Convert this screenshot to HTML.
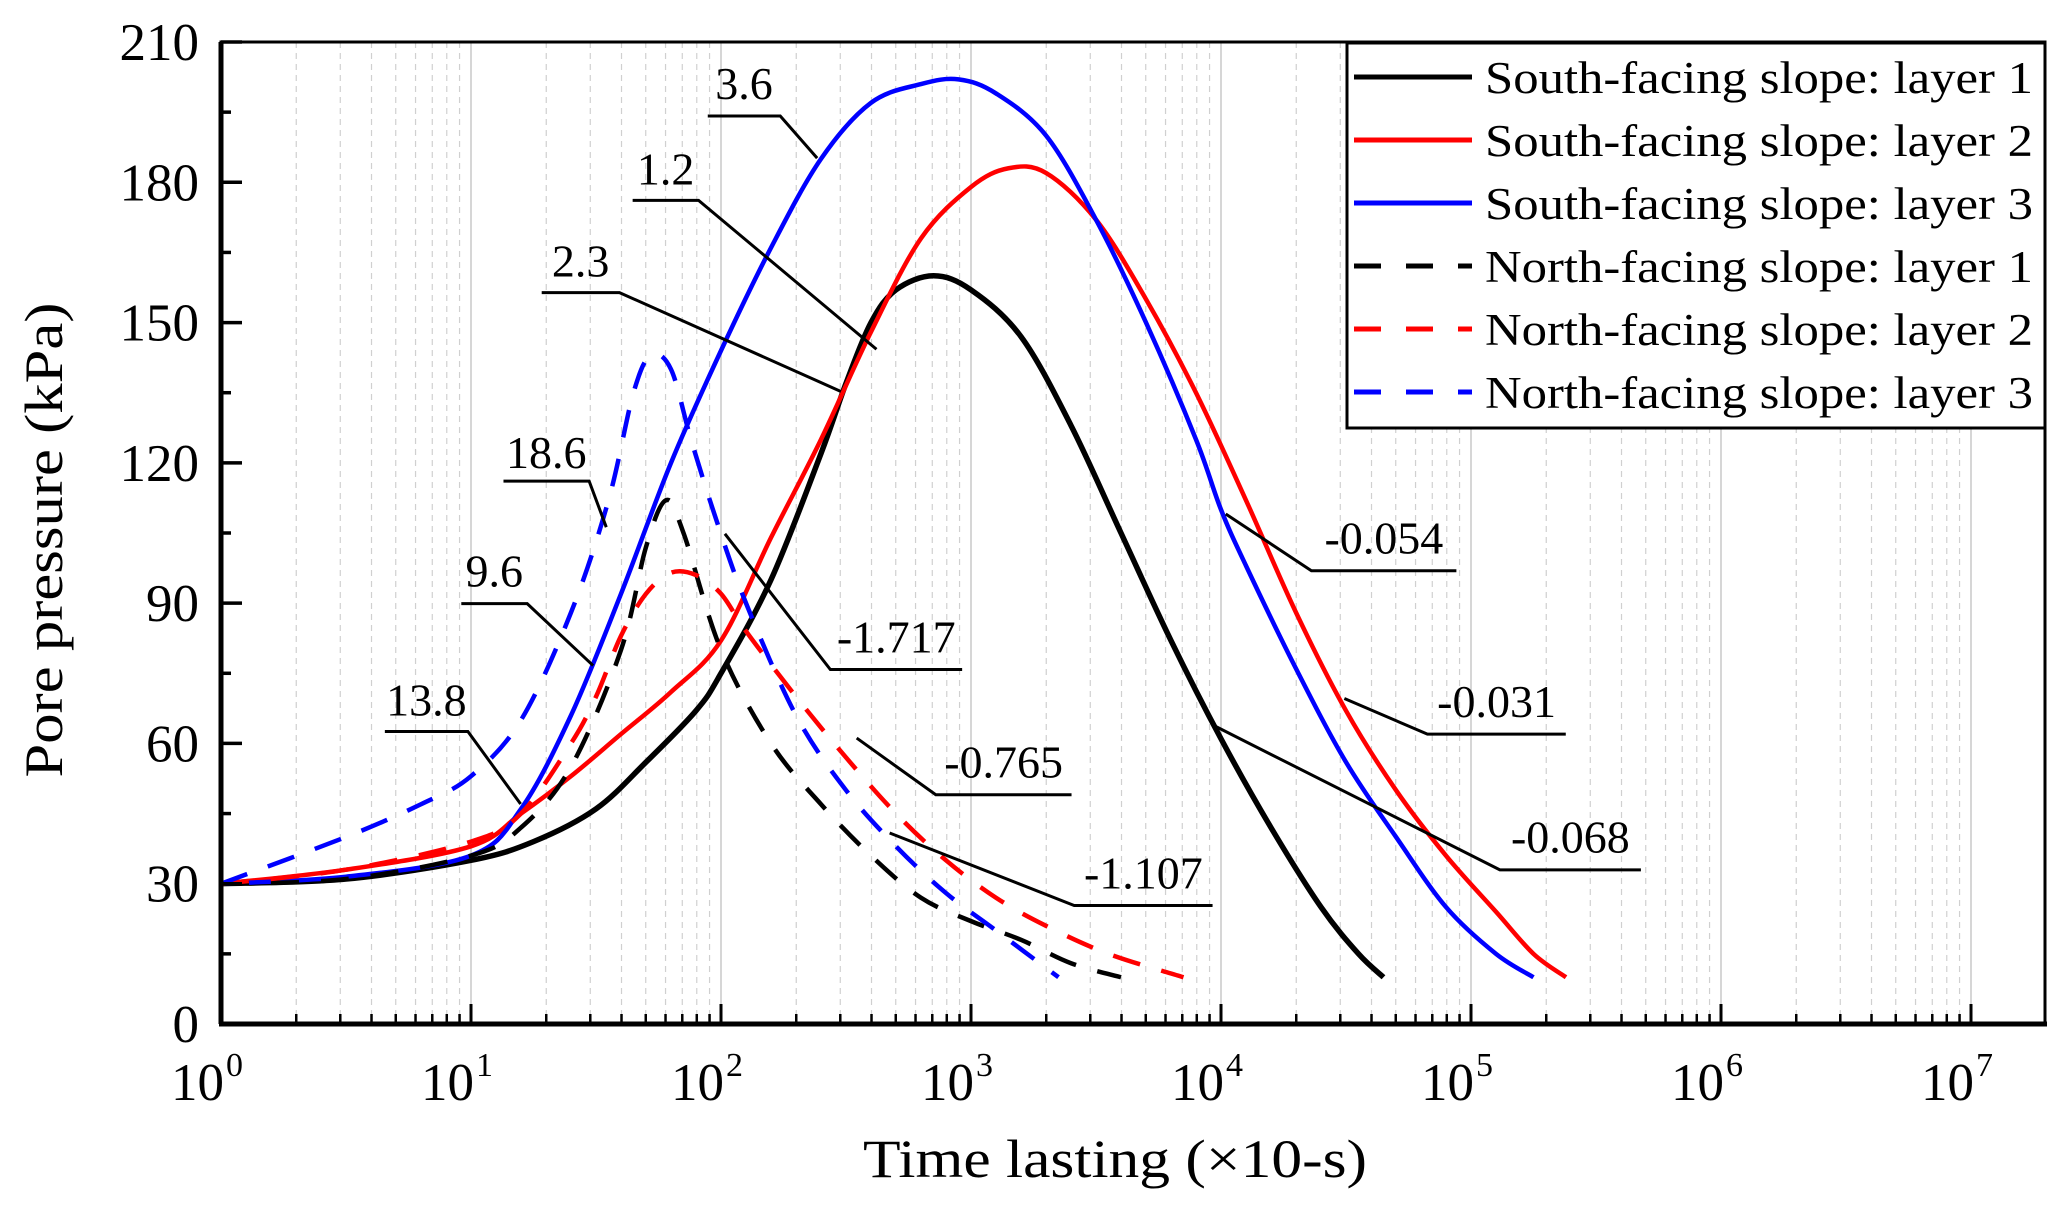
<!DOCTYPE html>
<html><head><meta charset="utf-8"><style>
body{margin:0;background:#fff}
svg{display:block;font-family:"Liberation Serif",serif}
</style></head><body>
<svg id="chart" width="2067" height="1211" viewBox="0 0 2067 1211" xmlns="http://www.w3.org/2000/svg">
<g id="grid"></g>
<g id="series"></g>
<g id="annot"></g>
<g id="axes"></g>
<text x="1115" y="1177" font-size="54" text-anchor="middle" textLength="504" lengthAdjust="spacingAndGlyphs">Time lasting (×10-s)</text>
<text transform="translate(62,540) rotate(-90)" font-size="54" text-anchor="middle" textLength="475" lengthAdjust="spacingAndGlyphs">Pore pressure (kPa)</text>
<g id="legend"></g>
</svg>
<script>
// ---- data (x in log10 of time, y in kPa) ----
const s1x=[0,0.5,1,1.25,1.5,1.7,1.9,2,2.2,2.4,2.5,2.6,2.7,2.85,3,3.2,3.4,3.6,3.8,4,4.2,4.4,4.55,4.65];
const s1y=[30,31,35,39,46,56,67,75,95,122,137,150,157,160,157,147,128,105,82,61,42,25,15,10];
const s2x=[0,0.5,1,1.2,1.4,1.6,1.8,2,2.2,2.4,2.6,2.8,3,3.15,3.3,3.5,3.7,3.9,4.1,4.3,4.5,4.7,4.9,5.1,5.25,5.38];
const s2y=[30,33,38,45,53,62,71,82,104,125,148,168,179,183,182,172,155,135,112,88,67,50,36,24,15,10];
const s3x=[0,0.5,1,1.2,1.4,1.6,1.8,2,2.2,2.4,2.6,2.8,2.95,3.1,3.3,3.5,3.7,3.9,4,4.1,4.3,4.5,4.7,4.9,5.1,5.25];
const s3y=[30,31.5,36,46,66,92,120,144,166,185,197,201,202,199,190,172,150,125,110,98,76,56,40,25,15,10];
const n1x=[0,0.5,1,1.2,1.4,1.6,1.7,1.78,1.85,2,2.2,2.4,2.6,2.8,3,3.2,3.4,3.6];
const n1y=[30,31,36,42,55,80,102,112,105,80,60,47,36,27,22,18,13,10];
const n2x=[0,0.5,1,1.2,1.4,1.5,1.6,1.7,1.8,1.9,2,2.1,2.3,2.5,2.7,2.9,3.1,3.3,3.55,3.85];
const n2y=[30,33,39,45,60,70,83,92,96.5,96,92,84,70,57,45,35,27,21,15,10];
const n3x=[0,0.5,0.8,1,1.2,1.4,1.55,1.65,1.72,1.8,1.88,1.98,2.1,2.3,2.5,2.7,2.9,3.1,3.35];
const n3y=[30,40,47,53,65,88,112,135,143,140,125,108,90,66,50,38,28,20,10];
const seriesNames=["South-facing slope: layer 1","South-facing slope: layer 2","South-facing slope: layer 3","North-facing slope: layer 1","North-facing slope: layer 2","North-facing slope: layer 3"];
const yTicks=[0,30,60,90,120,150,180,210];
const xDecades=[0,1,2,3,4,5,6,7];
const annLabels=["3.6","1.2","2.3","18.6","9.6","13.8","-1.717","-0.765","-1.107","-0.054","-0.031","-0.068"];

const NS="http://www.w3.org/2000/svg";
const L=221,R=2045,T=42,B=1024,DEC=250;
const xs=d=>L+d*DEC;
const ys=v=>B-(v/210)*(B-T);
function mk(tag,attrs,parent){const e=document.createElementNS(NS,tag);for(const k in attrs)e.setAttribute(k,attrs[k]);parent.appendChild(e);return e;}
const grid=document.getElementById('grid'),axes=document.getElementById('axes'),ser=document.getElementById('series'),ann=document.getElementById('annot'),leg=document.getElementById('legend');

for(let d=0;d<8;d++){
  for(let m=1;m<10;m++){
    const x=xs(d+Math.log10(m)); if(x>R)break;
    const g=mk('line',{x1:x,x2:x,y1:T,y2:B,stroke:m==1?'#c8c8c8':'#d0d0d0','stroke-width':m==1?1.5:1.2,'stroke-dasharray':m==1?'':'6,5'},grid);
    
    
  }
}
const cols=['#000','#f00','#00f','#000','#f00','#00f'];
const allX=[s1x,s2x,s3x,n1x,n2x,n3x],allY=[s1y,s2y,s3y,n1y,n2y,n3y];
const sNames=['south-layer-1-line','south-layer-2-line','south-layer-3-line','north-layer-1-line','north-layer-2-line','north-layer-3-line'];
function smoothPath(X,Y){
  const p=X.map((x,i)=>[xs(x),ys(Y[i])]);
  let d='M'+p[0][0]+','+p[0][1];
  for(let i=0;i<p.length-1;i++){
    const p0=p[i-1]||p[i],p1=p[i],p2=p[i+1],p3=p[i+2]||p2;
    const c1=[p1[0]+(p2[0]-p0[0])/6,p1[1]+(p2[1]-p0[1])/6],c2=[p2[0]-(p3[0]-p1[0])/6,p2[1]-(p3[1]-p1[1])/6];
    d+=' C'+c1+' '+c2+' '+p2;
  }
  return d;
}
for(let i=0;i<6;i++){
  const p=mk('path',{d:smoothPath(allX[i],allY[i]),fill:'none',stroke:cols[i],'stroke-width':i==0?5.5:4.5,'stroke-dasharray':i>=3?'28,22':'','stroke-linejoin':'round'},ser);
  
  
}
const S=1.318;
const annGeo=[[565,78,537,88,592,620,120],[505,143,480,152,530,665,265],[441,213,411,222,470,638,297],[415,358,382,365,447,460,400],[375,448,350,458,400,450,505],[325,546,292,555,355,395,610],[680,498,730,508,630,550,405],[760,593,813,603,710,650,560],[868,677,920,687,815,675,632],[1050,423,1105,433,995,930,390],[1135,547,1188,557,1083,1020,530],[1193,650,1245,660,1138,920,550]];
annGeo.forEach((g,i)=>{
  const p=mk('polyline',{points:[g[2]*S,g[3]*S,g[4]*S,g[3]*S,g[5]*S,g[6]*S].join(' '),fill:'none',stroke:'#000','stroke-width':3},ann);
  
  
  const t=mk('text',{x:(g[2]+g[4])/2*S,y:g[1]*S-4,'font-size':46,'text-anchor':'middle'},ann);
  t.textContent=annLabels[i];
  
  
});
const fr=mk('rect',{x:L,y:T,width:R-L,height:B-T,fill:'none',stroke:'#000','stroke-width':3},axes);


const xa=mk('line',{x1:L-2,x2:R+2,y1:B,y2:B,stroke:'#000','stroke-width':5},axes);


const ya=mk('line',{x1:L,x2:L,y1:T,y2:B,stroke:'#000','stroke-width':5},axes);


yTicks.forEach(v=>{
  const y=ys(v);
  const tk=mk('line',{x1:L,x2:L+21,y1:y,y2:y,stroke:'#000','stroke-width':3.5},axes);
  
  
  if(v<210){const m=ys(v+15);const mt=mk('line',{x1:L,x2:L+10,y1:m,y2:m,stroke:'#000','stroke-width':3.5},axes);}
  const t=mk('text',{x:L-22,y:y+18,'font-size':53,'text-anchor':'end'},axes);
  t.textContent=v;
  
  
});
xDecades.forEach(d=>{
  const x=xs(d);
  const tk=mk('line',{x1:x,x2:x,y1:B,y2:B-20,stroke:'#000','stroke-width':3},axes);
  
  
  for(let m=2;m<10;m++){const xm=xs(d+Math.log10(m));if(xm>R)break;const mt=mk('line',{x1:xm,x2:xm,y1:B,y2:B-10,stroke:'#000','stroke-width':2.5},axes);}
  const t=mk('text',{x:x-14,y:1100,'font-size':53,'text-anchor':'middle'},axes);
  
  
  t.textContent='10';
  const sp=mk('tspan',{dx:2,dy:-24,'font-size':34},t);
  sp.textContent=d;
});
const lb=mk('rect',{x:1347,y:43,width:698,height:385,fill:'#fff',stroke:'#000','stroke-width':3},leg);


seriesNames.forEach((n,i)=>{
  const y=77+i*63;
  const ln=mk('line',{x1:1354,x2:1472,y1:y,y2:y,stroke:cols[i],'stroke-width':5,'stroke-dasharray':i>=3?'27,25':''},leg);
  
  
  const t=mk('text',{x:1485,y:y+16,'font-size':45,textLength:548,lengthAdjust:'spacingAndGlyphs'},leg);
  t.textContent=n;
  
  
});
</script>
</body></html>
